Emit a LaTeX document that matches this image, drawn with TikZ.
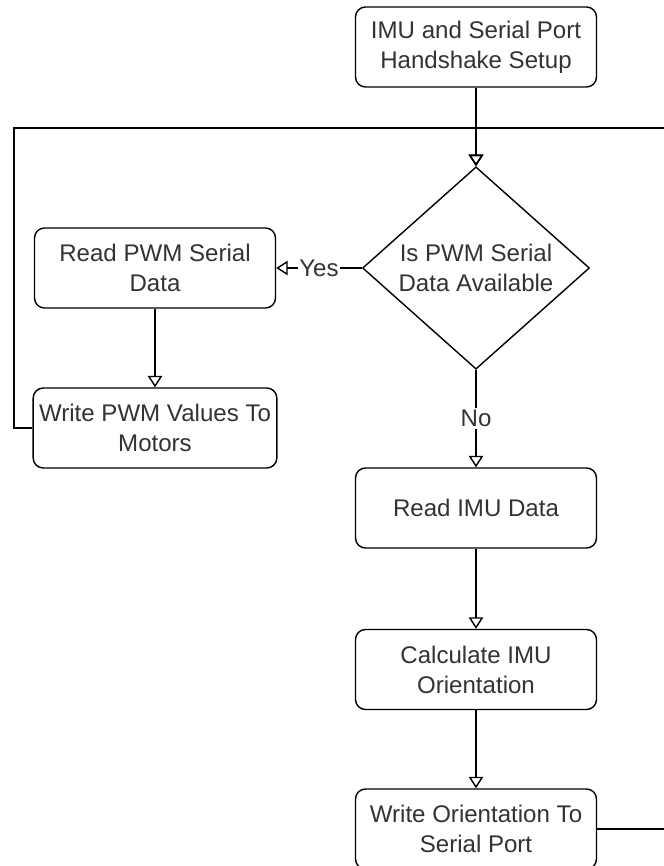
\documentclass[tikz,border=0pt]{standalone}
\usepackage{fontspec}
\setmainfont{Liberation Sans}
\usetikzlibrary{shapes.geometric, arrows.meta, positioning}

\begin{document}
\begin{tikzpicture}[
    box/.style={draw=black, rounded corners=0.2cm, line width=0.8pt, minimum width=4.82cm, minimum height=1.6cm,
      align=center, text=black!80, font=\fontsize{13.7}{17}\selectfont},
    decision/.style={draw=black, diamond, line width=0.8pt, minimum width=4.54cm, minimum height=4cm, inner sep=0pt,
      align=center, text=black!80, font=\fontsize{13.7}{17}\selectfont},
    flow/.style={draw=black, line width=0.8pt, -{Triangle[open, width=0.29cm, length=0.23cm]}},
    tag/.style={fill=white, inner sep=1pt, text=black!80, font=\fontsize{13.7}{17}\selectfont}
  ]
  \clip (0,0) rectangle (13.28,-17.32);
  \fill[white] (0,0) rectangle (13.28,-17.32);

  \node[box] (setup) at (9.52,-0.94) {IMU and Serial Port\\Handshake Setup};
  \node[decision] (avail) at (9.52,-5.36) {Is PWM Serial\\Data Available};
  \node[box] (readpwm) at (3.1,-5.36) {Read PWM Serial\\Data};
  \node[box] (writepwm) at (3.1,-8.56) {Write PWM Values To\\Motors};
  \node[box] (readimu) at (9.52,-10.16) {Read IMU Data};
  \node[box] (calcimu) at (9.52,-13.39) {Calculate IMU\\Orientation};
  \node[box] (writeori) at (9.52,-16.58) {Write Orientation To\\Serial Port};

  % loop corners
  \coordinate (loopL) at (0.28,-2.56);
  \coordinate (loopR) at (13.7,-2.56);

  \draw[flow] (setup) -- (avail);
  \draw[flow] (avail) -- node[tag] {Yes} (readpwm);
  \draw[flow] (readpwm) -- (writepwm);
  \draw[flow] (writepwm.west) -| (loopL) -| (avail.north);
  \draw[flow] (avail) -- node[tag] {No} (readimu);
  \draw[flow] (readimu) -- (calcimu);
  \draw[flow] (calcimu) -- (writeori);
  \draw[flow] (writeori.east) -| (loopR) -| (avail.north);
\end{tikzpicture}
\end{document}
